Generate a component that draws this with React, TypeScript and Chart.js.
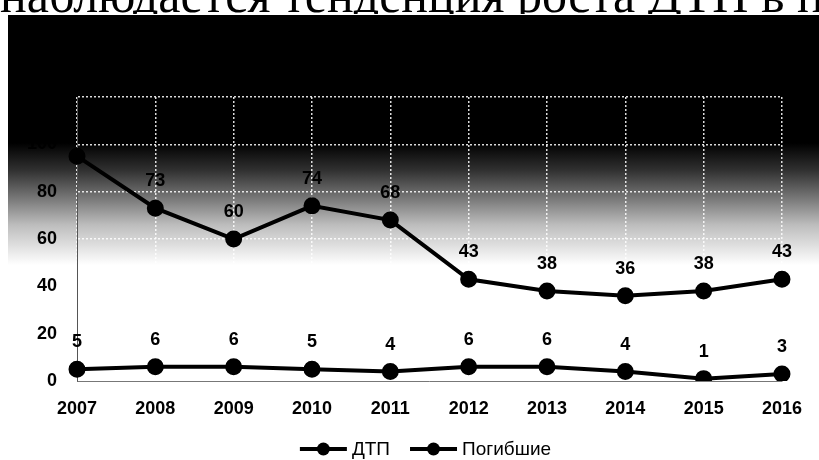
import React, { useEffect, useRef } from "react";
import { Chart, registerables } from "chart.js";

Chart.register(...registerables);

const years = ["2007", "2008", "2009", "2010", "2011", "2012", "2013", "2014", "2015", "2016"];
const dtpValues = [95, 73, 60, 74, 68, 43, 38, 36, 38, 43];
const deathValues = [5, 6, 6, 5, 4, 6, 6, 4, 1, 3];
const seriesNames = ["ДТП", "Погибшие"];
const yMin = 0;
const yMax = 120;
const yStep = 20;
const headerText = "наблюдается тенденция роста ДТП в прошлые";

const FONT = "'Liberation Sans', Arial, sans-serif";

const backgroundPlugin = {
  id: "bgGradient",
  beforeDraw(chart: any) {
    const { ctx, width, height } = chart;
    ctx.save();
    const g = ctx.createLinearGradient(0, 0, 0, height);
    const h = height;
    g.addColorStop(0, "#000000");
    g.addColorStop(128 / h, "#000000");
    g.addColorStop(155 / h, "#303030");
    g.addColorStop(182 / h, "#747474");
    g.addColorStop(210 / h, "#bdbdbd");
    g.addColorStop(250 / h, "#ffffff");
    g.addColorStop(1, "#ffffff");
    ctx.fillStyle = g;
    ctx.fillRect(8, 0, width - 8, height);
    ctx.restore();
  },
};

const dataLabelPlugin = {
  id: "valueLabels",
  afterDatasetsDraw(chart: any) {
    const { ctx } = chart;
    ctx.save();
    ctx.font = `bold 18px ${FONT}`;
    ctx.fillStyle = "#000";
    ctx.textAlign = "center";
    ctx.textBaseline = "middle";
    chart.data.datasets.forEach((ds: any, i: number) => {
      const meta = chart.getDatasetMeta(i);
      meta.data.forEach((pt: any, j: number) => {
        ctx.fillText(String(ds.data[j]), pt.x, pt.y - 27);
      });
    });
    ctx.restore();
  },
};

const legendPlugin = {
  id: "lineLegend",
  afterDraw(chart: any) {
    const { ctx, chartArea } = chart;
    ctx.save();
    ctx.font = `19px ${FONT}`;
    const lineLen = 47;
    const gapText = 5;
    const gapItems = 20;
    const names = chart.data.datasets.map((d: any) => d.label);
    const widths = names.map((n: string) => ctx.measureText(n).width);
    let total = 0;
    widths.forEach((w: number, i: number) => {
      total += lineLen + gapText + w + (i < widths.length - 1 ? gapItems : 0);
    });
    let x = (chartArea.left + chartArea.right) / 2 - total / 2 - 4;
    const y = 434;
    names.forEach((n: string, i: number) => {
      ctx.strokeStyle = "#000";
      ctx.lineWidth = 4;
      ctx.beginPath();
      ctx.moveTo(x, y);
      ctx.lineTo(x + lineLen, y);
      ctx.stroke();
      ctx.fillStyle = "#000";
      ctx.beginPath();
      ctx.arc(x + lineLen / 2, y, 6.5, 0, Math.PI * 2);
      ctx.fill();
      ctx.textAlign = "left";
      ctx.textBaseline = "middle";
      ctx.fillText(n, x + lineLen + gapText, y + 1);
      x += lineLen + gapText + widths[i] + gapItems;
    });
    ctx.restore();
  },
};

export default function App() {
  const canvasRef = useRef<HTMLCanvasElement | null>(null);

  useEffect(() => {
    if (!canvasRef.current) return;
    const chart = new Chart(canvasRef.current, {
      type: "line",
      data: {
        labels: years,
        datasets: [
          {
            label: seriesNames[0],
            data: dtpValues,
            borderColor: "#000",
            backgroundColor: "#000",
            borderWidth: 4,
            pointRadius: 6.5,
            pointBackgroundColor: "#000",
            pointBorderColor: "#000",
            tension: 0,
          },
          {
            label: seriesNames[1],
            data: deathValues,
            borderColor: "#000",
            backgroundColor: "#000",
            borderWidth: 4,
            pointRadius: 6.5,
            pointBackgroundColor: "#000",
            pointBorderColor: "#000",
            tension: 0,
          },
        ],
      },
      options: {
        animation: false,
        responsive: false,
        devicePixelRatio: 1,
        layout: { padding: { top: 82, left: 0, right: 33, bottom: 0 } },
        plugins: {
          legend: { display: false },
          tooltip: { enabled: false },
          title: { display: false },
        },
        scales: {
          x: {
            offset: false,
            grid: {
              display: true,
              color: "rgba(255,255,255,0.85)",
              lineWidth: 1.5,
              drawTicks: false,
            },
            border: { display: true, color: "#777", dash: [2, 2], width: 1 },
            ticks: {
              color: "#000",
              padding: 17,
              maxRotation: 0,
              font: { family: FONT, size: 18, weight: "bold" },
            },
            afterFit(scale: any) {
              scale.height = 79;
            },
          },
          y: {
            min: yMin,
            max: yMax,
            grid: {
              display: true,
              color: "rgba(255,255,255,0.85)",
              lineWidth: 1.5,
              drawTicks: false,
            },
            border: { display: true, color: "#555", dash: [2, 2], width: 1 },
            ticks: {
              stepSize: yStep,
              color: "#000",
              padding: 20,
              font: { family: FONT, size: 18, weight: "bold" },
            },
            afterFit(scale: any) {
              scale.width = 77;
            },
          },
        },
      },
      plugins: [backgroundPlugin, dataLabelPlugin, legendPlugin],
    } as any);
    return () => chart.destroy();
  }, []);

  return (
    <div
      style={{
        position: "fixed",
        left: 0,
        top: 0,
        width: 819,
        height: 460,
        background: "#fff",
        overflow: "hidden",
      }}
    >
      <div
        style={{
          position: "absolute",
          left: 0,
          top: 0,
          width: 819,
          height: 14,
          overflow: "hidden",
        }}
      >
        <div
          style={{
            position: "absolute",
            left: 0,
            top: -30,
            whiteSpace: "nowrap",
            fontFamily: "'Liberation Serif', 'DejaVu Serif', serif",
            fontSize: 50,
            lineHeight: "50px",
            color: "#000",
          }}
        >
          {headerText}
        </div>
      </div>
      <canvas
        ref={canvasRef}
        width={819}
        height={445}
        style={{ position: "absolute", left: 0, top: 15, width: 819, height: 445 }}
      />
    </div>
  );
}
